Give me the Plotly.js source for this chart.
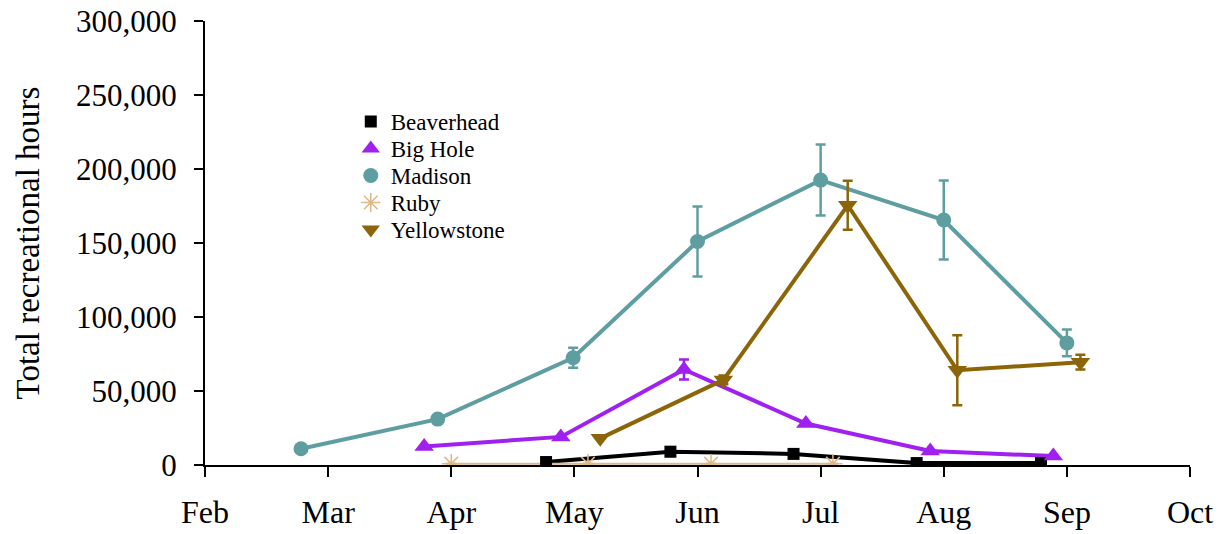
<!DOCTYPE html>
<html>
<head>
<meta charset="utf-8">
<script src="https://cdn.plot.ly/plotly-3.0.1.min.js"></script>
<style>
  html, body { margin: 0; padding: 0; background: #fff; }
  #chart { width: 1228px; height: 534px; }
</style>
</head>
<body>
<div id="chart"></div>
<script>
// Month positions on the axis (Feb = 2 ... Oct = 10)
const monthTicks = [2, 3, 4, 5, 6, 7, 8, 9, 10];
const monthLabels = ['Feb', 'Mar', 'Apr', 'May', 'Jun', 'Jul', 'Aug', 'Sep', 'Oct'];

// Beaverhead
const beaverheadX = [4.77, 5.78, 6.78, 7.78, 8.79];
const beaverheadY = [2000, 9000, 7500, 1300, 1300];
const beaverheadErr = [0, 3000, 0, 0, 0];

// Big Hole
const bigHoleX = [3.78, 4.89, 5.89, 6.88, 7.89, 8.89];
const bigHoleY = [12500, 19000, 64500, 28000, 9500, 6000];
const bigHoleErr = [0, 0, 6800, 0, 0, 0];

// Madison
const madisonX = [2.78, 3.89, 4.99, 6.0, 7.0, 8.0, 9.0];
const madisonY = [11000, 31000, 72500, 151000, 192500, 165500, 82500];
const madisonErr = [0, 0, 6800, 23600, 24000, 26700, 9000];

// Ruby
const rubyX = [4.0, 5.11, 6.11, 7.1];
const rubyY = [900, 900, 900, 900];
const rubyErr = [0, 0, 0, 0];

// Yellowstone
const yellowstoneX = [5.21, 6.21, 7.22, 8.11, 9.11];
const yellowstoneY = [18000, 57500, 175500, 64000, 69500];
const yellowstoneErr = [0, 3000, 16500, 23700, 5000];

const series = [
  { name: 'Beaverhead', x: beaverheadX, y: beaverheadY, err: beaverheadErr,
    color: '#000000', symbol: 'square', size: 12, lw: 4 },
  { name: 'Big Hole', x: bigHoleX, y: bigHoleY, err: bigHoleErr,
    color: '#A020F0', symbol: 'triangle-up', size: 17, lw: 4 },
  { name: 'Madison', x: madisonX, y: madisonY, err: madisonErr,
    color: '#5F9EA0', symbol: 'circle', size: 15, lw: 4 },
  { name: 'Ruby', x: rubyX, y: rubyY, err: rubyErr,
    color: '#DEB887', symbol: 'asterisk-open', size: 16, lw: 2 },
  { name: 'Yellowstone', x: yellowstoneX, y: yellowstoneY, err: yellowstoneErr,
    color: '#8B6508', symbol: 'triangle-down', size: 17, lw: 4 }
];

const traces = [];
// connecting lines first, without legend entries
series.forEach(s => {
  traces.push({
    type: 'scatter', mode: 'lines', x: s.x, y: s.y,
    line: { color: s.color, width: s.lw },
    showlegend: false, hoverinfo: 'skip'
  });
});
// points with error bars, which carry the legend
series.forEach(s => {
  traces.push({
    type: 'scatter', mode: 'markers', name: s.name, x: s.x, y: s.y,
    marker: {
      color: s.color, symbol: s.symbol, size: s.size,
      line: { color: s.color, width: s.symbol === 'asterisk-open' ? 1.5 : 0 }
    },
    error_y: { type: 'data', array: s.err, visible: true,
               color: s.color, thickness: 2.5, width: 5 }
  });
});

const serif = 'Liberation Serif, Times New Roman, serif';

const layout = {
  width: 1228, height: 534,
  margin: { l: 205, r: 38, t: 21, b: 69 },
  paper_bgcolor: '#ffffff', plot_bgcolor: '#ffffff',
  font: { family: serif, color: '#000000' },
  showlegend: true,
  legend: {
    x: 0.148, y: 0.822, xanchor: 'left', yanchor: 'top',
    font: { family: serif, size: 23, color: '#000000' },
    bgcolor: 'rgba(0,0,0,0)', tracegroupgap: 0, itemwidth: 30
  },
  xaxis: {
    range: [2, 10], tickmode: 'array', tickvals: monthTicks, ticktext: monthLabels,
    showgrid: false, zeroline: false, showline: true, linecolor: '#000', linewidth: 2,
    ticks: 'outside', ticklen: 10, tickwidth: 2, tickcolor: '#000',
    tickfont: { family: serif, size: 32, color: '#000' }, ticklabelstandoff: 8
  },
  yaxis: {
    range: [0, 300000], tickmode: 'array',
    tickvals: [0, 50000, 100000, 150000, 200000, 250000, 300000],
    tickformat: ',',
    showgrid: false, zeroline: false, showline: true, linecolor: '#000', linewidth: 2,
    ticks: 'outside', ticklen: 9, tickwidth: 2, tickcolor: '#000',
    tickfont: { family: serif, size: 31, color: '#000' }, ticklabelstandoff: 11,
    title: { text: 'Total recreational hours', font: { family: serif, size: 33, color: '#000' }, standoff: 26 }
  }
};

// tighten the legend rows to a fixed pitch
function tightenLegend(gd, pitch) {
  const items = gd.querySelectorAll('.legend .traces');
  if (!items.length) return;
  const top0 = items[0].getBoundingClientRect().top;
  items.forEach((el, i) => {
    const delta = (top0 + i * pitch) - el.getBoundingClientRect().top;
    const m = /translate\(\s*([-\d.]+)[ ,]+([-\d.]+)\s*\)/.exec(el.getAttribute('transform') || '');
    const tx = m ? parseFloat(m[1]) : 0;
    const ty = m ? parseFloat(m[2]) : 0;
    el.setAttribute('transform', 'translate(' + tx + ',' + (ty + delta) + ')');
  });
}

const gd = document.getElementById('chart');
Plotly.newPlot(gd, traces, layout, { displayModeBar: false, staticPlot: true })
  .then(() => tightenLegend(gd, 27));
</script>
</body>
</html>
